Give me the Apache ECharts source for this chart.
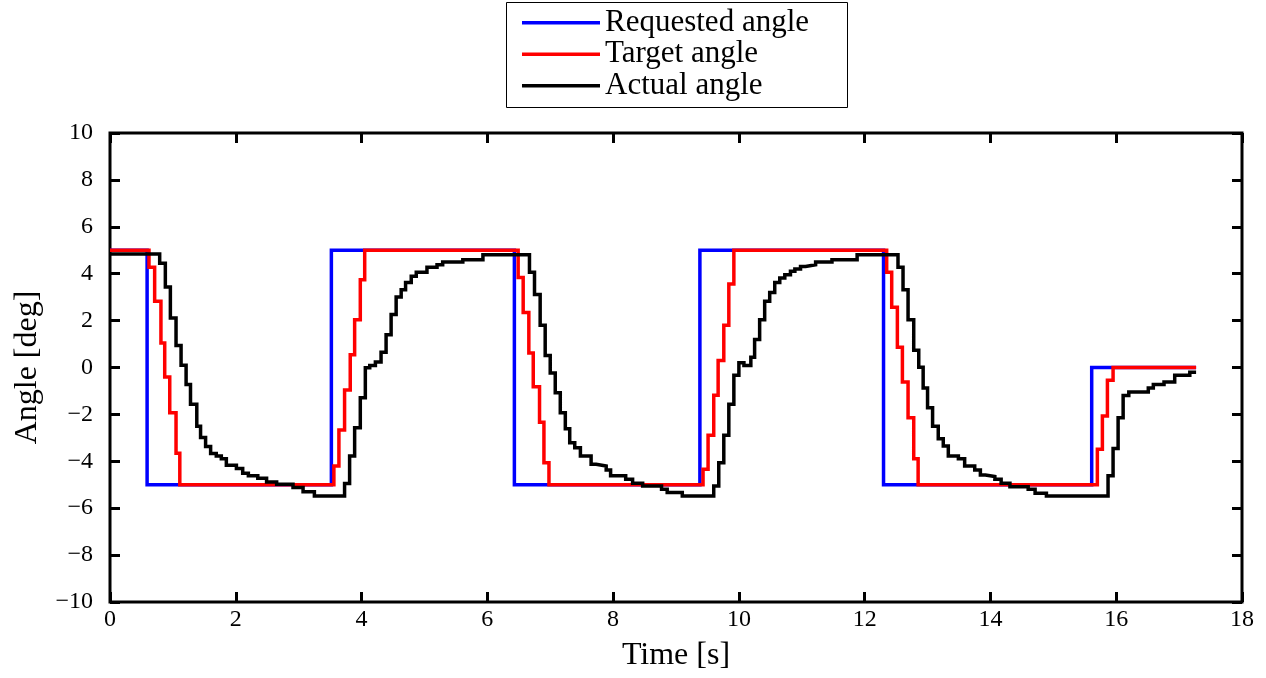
<!DOCTYPE html>
<html>
<head>
<meta charset="utf-8">
<script src="https://cdn.jsdelivr.net/npm/echarts@6/dist/echarts.min.js"></script>
<style>
    html, body { margin: 0; padding: 0; background: #fff; }
    #chart { width: 1266px; height: 678px; }
</style>
</head>
<body>
<div id="chart"></div>
<script>
// 图例名称
var seriesNames = ['Requested angle', 'Target angle', 'Actual angle'];

// 坐标轴刻度
var xTicks = [0, 2, 4, 6, 8, 10, 12, 14, 16, 18];
var yTicks = [-10, -8, -6, -4, -2, 0, 2, 4, 6, 8, 10];

// 请求角度 (阶跃, 每个点保持到下一个时刻)
var reqTime = [0, 0.59, 3.52, 6.43, 9.38, 12.30, 15.61, 17.27];
var reqAngle = [5, -5, 5, -5, 5, -5, 0, 0];

// 目标角度
var tgtTime = [0, 0.62, 0.71, 0.81, 0.87, 0.95, 1.05, 1.11,
    3.56, 3.64, 3.73, 3.82, 3.89, 3.98, 4.05,
    6.49, 6.57, 6.66, 6.73, 6.83, 6.90, 6.98,
    9.43, 9.51, 9.60, 9.67, 9.76, 9.84, 9.92,
    12.35, 12.43, 12.52, 12.60, 12.69, 12.78, 12.85,
    15.70, 15.78, 15.86, 15.95, 17.27];
var tgtAngle = [5, 4.27, 2.82, 1.05, -0.41, -1.93, -3.66, -5,
    -4.2, -2.67, -0.96, 0.54, 2.04, 3.74, 5,
    3.84, 2.35, 0.62, -0.82, -2.33, -4.06, -5,
    -4.34, -2.89, -1.18, 0.30, 1.80, 3.56, 5,
    4.06, 2.57, 0.86, -0.62, -2.14, -3.89, -5,
    -3.49, -2.07, -0.54, 0, 0];

// 实际角度
var actTime = [0, 0.79, 0.88, 0.96, 1.05, 1.13, 1.21, 1.28, 1.38, 1.44, 1.52, 1.60, 1.69, 1.77, 1.85, 2.01, 2.11, 2.20, 2.35, 2.49, 2.65, 2.91, 3.07, 3.25,
    3.73, 3.81, 3.89, 3.98, 4.06, 4.13, 4.22, 4.31, 4.39, 4.47, 4.55, 4.63, 4.70, 4.79, 4.87, 5.04, 5.20, 5.29, 5.61, 5.93,
    6.67, 6.75, 6.84, 6.92, 7.00, 7.08, 7.16, 7.24, 7.31, 7.39, 7.48, 7.65, 7.73, 7.89, 7.96, 8.20, 8.31, 8.47, 8.77, 8.86, 9.10,
    9.60, 9.68, 9.76, 9.84, 9.92, 10.00, 10.08, 10.19, 10.25, 10.33, 10.41, 10.49, 10.57, 10.65, 10.73, 10.82, 10.89, 10.98, 11.06, 11.22, 11.48, 11.88,
    12.53, 12.61, 12.69, 12.78, 12.86, 12.93, 13.00, 13.08, 13.17, 13.25, 13.33, 13.49, 13.59, 13.75, 13.84, 13.92, 14.07, 14.17, 14.31, 14.60, 14.71, 14.89,
    15.87, 15.95, 16.03, 16.11, 16.20, 16.51, 16.59, 16.76, 16.93, 17.17, 17.27];
var actAngle = [4.84, 4.45, 3.43, 2.11, 0.94, 0.10, -0.72, -1.57, -2.50, -2.99, -3.37, -3.67, -3.77, -3.89, -4.17, -4.31, -4.51, -4.62, -4.72, -4.88, -4.98, -5.12, -5.30, -5.48,
    -4.95, -3.77, -2.57, -1.29, -0.01, 0.09, 0.23, 0.65, 1.40, 2.26, 3.01, 3.32, 3.63, 3.89, 4.06, 4.28, 4.38, 4.50, 4.60, 4.81,
    4.06, 3.11, 1.80, 0.51, -0.23, -1.08, -1.93, -2.61, -3.21, -3.42, -3.77, -4.13, -4.20, -4.37, -4.62, -4.77, -4.94, -5.05, -5.19, -5.33, -5.48,
    -5.05, -4.06, -2.89, -1.57, -0.33, 0.20, 0.09, 0.44, 1.19, 2.04, 2.82, 3.20, 3.63, 3.82, 3.96, 4.10, 4.20, 4.31, 4.38, 4.50, 4.60, 4.81,
    4.28, 3.32, 2.04, 0.74, 0.01, -0.87, -1.72, -2.50, -3.04, -3.35, -3.77, -3.89, -4.20, -4.37, -4.58, -4.65, -4.77, -4.94, -5.08, -5.19, -5.36, -5.48,
    -4.62, -3.45, -2.14, -1.19, -1.05, -0.87, -0.72, -0.62, -0.33, -0.20, -0.20];

var FONT = '"Liberation Serif", "DejaVu Serif", serif';

function zip(aT, aV) {
    var aOut = [];
    for (var i = 0; i < aT.length; i++) {
        aOut.push([aT[i], aV[i]]);
    }
    return aOut;
}

// 负号用 U+2212
function fmtTick(v) {
    return String(v).replace('-', '\u2212');
}

var xMin = xTicks[0], xMax = xTicks[xTicks.length - 1], xStep = xTicks[1] - xTicks[0];
var yMin = yTicks[0], yMax = yTicks[yTicks.length - 1], yStep = yTicks[1] - yTicks[0];

function makeSeries(cName, aT, aV, cColor) {
    return {
        name: cName,
        type: 'line',
        step: 'end',
        xAxisIndex: 0,
        yAxisIndex: 0,
        showSymbol: false,
        symbol: 'none',
        data: zip(aT, aV),
        lineStyle: { width: 3.5, color: cColor, join: 'miter' },
        itemStyle: { color: cColor },
        z: 3
    };
}

// 坐标轴刻度线, 朝内
var oTick = { show: true, inside: true, length: 10, lineStyle: { color: '#000', width: 3 } };
var oNoLine = { show: false, onZero: false };

var oChart = echarts.init(document.getElementById('chart'), null, { renderer: 'canvas' });

var oOption = {
    backgroundColor: '#fff',
    animation: false,
    grid: {
        left: 110,
        right: 24,
        top: 133,
        bottom: 76,
        show: true,
        borderColor: '#000',
        borderWidth: 3,
        backgroundColor: 'transparent'
    },
    legend: {
        orient: 'vertical',
        left: 522,
        top: 7,
        padding: 0,
        itemGap: 0,
        itemWidth: 78,
        itemHeight: 3.5,
        itemTextGap: 9,
        icon: 'rect',
        selectedMode: false,
        data: seriesNames,
        textStyle: { fontFamily: FONT, fontSize: 31, color: '#000', lineHeight: 31.5 }
    },
    graphic: [{
        type: 'rect',
        shape: { x: 506.5, y: 2.5, width: 341, height: 105 },
        style: { fill: 'transparent', stroke: '#000', lineWidth: 1 },
        z: 100
    }],
    xAxis: [{
        type: 'value',
        min: xMin,
        max: xMax,
        interval: xStep,
        name: 'Time [s]',
        nameLocation: 'middle',
        nameGap: 38,
        nameTextStyle: { fontFamily: FONT, fontSize: 32, color: '#000' },
        axisLine: oNoLine,
        axisTick: oTick,
        axisLabel: { fontFamily: FONT, fontSize: 24, color: '#000', margin: 6, formatter: fmtTick },
        splitLine: { show: false }
    }, {
        type: 'value',
        position: 'top',
        min: xMin,
        max: xMax,
        interval: xStep,
        axisLine: oNoLine,
        axisTick: oTick,
        axisLabel: { show: false },
        splitLine: { show: false }
    }],
    yAxis: [{
        type: 'value',
        min: yMin,
        max: yMax,
        interval: yStep,
        name: 'Angle [deg]',
        nameLocation: 'middle',
        nameGap: 66,
        nameTextStyle: { fontFamily: FONT, fontSize: 32, color: '#000' },
        axisLine: oNoLine,
        axisTick: oTick,
        axisLabel: { fontFamily: FONT, fontSize: 24, color: '#000', margin: 17, formatter: fmtTick },
        splitLine: { show: false }
    }, {
        type: 'value',
        position: 'right',
        min: yMin,
        max: yMax,
        interval: yStep,
        axisLine: oNoLine,
        axisTick: oTick,
        axisLabel: { show: false },
        splitLine: { show: false }
    }],
    series: [
        makeSeries(seriesNames[0], reqTime, reqAngle, '#0000ff'),
        makeSeries(seriesNames[1], tgtTime, tgtAngle, '#ff0000'),
        makeSeries(seriesNames[2], actTime, actAngle, '#000000')
    ]
};

oChart.setOption(oOption, true);
</script>
</body>
</html>
